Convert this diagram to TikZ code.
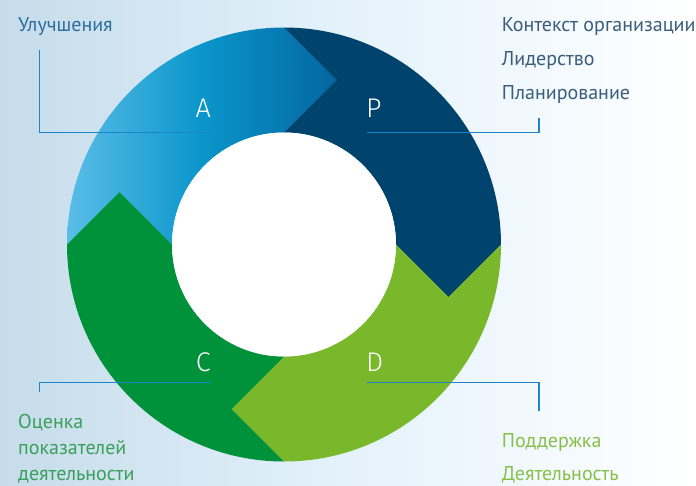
\documentclass[tikz,border=0pt]{standalone}
\usepackage{fontspec}
\setmainfont{PT Sans}
\newfontfamily\letterfont{Fira Sans Light}
\definecolor{bgL}{HTML}{C6DCEA}
\definecolor{bgM}{HTML}{E4F2FB}
\definecolor{aL}{HTML}{5ABDE8}
\definecolor{aM}{HTML}{0A96CB}
\definecolor{aR}{HTML}{0466A0}
\definecolor{pC}{HTML}{00446E}
\definecolor{dC}{HTML}{78B82A}
\definecolor{cC}{HTML}{00923A}
\definecolor{lineC}{HTML}{1C84CA}
\definecolor{tA}{HTML}{2D6E9E}
\definecolor{tP}{HTML}{3A5D7C}
\definecolor{tC}{HTML}{3A9F5C}
\definecolor{tD}{HTML}{88BF4A}
\pgfdeclarehorizontalshading{ashade}{100bp}{color(0bp)=(aL); color(25bp)=(aL); color(50bp)=(aM); color(75bp)=(aR); color(100bp)=(aR)}
\pgfdeclarehorizontalshading{bgshade}{100bp}{color(0bp)=(bgL); color(25bp)=(bgL); color(50bp)=(bgM); color(75bp)=(white); color(100bp)=(white)}
\begin{document}
\begin{tikzpicture}[x=1pt,y=-1pt,
  letter/.style={font=\letterfont\fontsize{27}{27}\selectfont, text=white, inner sep=0pt},
  lbl/.style={font=\fontsize{20}{20}\selectfont, inner sep=0pt, anchor=base west},
  leader/.style={draw=lineC, line width=1.4pt}]
\useasboundingbox (0,0) rectangle (696,485);
\shade[shading=bgshade] (0,0) rectangle (696,485);
% segments
\shade[shading=ashade]
  (67,244.5) arc[start angle=180,end angle=270,radius=217] -- (336.5,80) -- (284,132.5)
  arc[start angle=270,end angle=180,radius=112] -- (119.5,192) -- cycle;
\fill[pC] (284,27.5) arc[start angle=270,end angle=360,radius=217] -- (448.5,297) -- (396,244.5)
  arc[start angle=360,end angle=270,radius=112] -- (336.5,80) -- cycle;
\fill[dC] (501,244.5) arc[start angle=0,end angle=90,radius=217] -- (231.5,409) -- (284,356.5)
  arc[start angle=90,end angle=0,radius=112] -- (448.5,297) -- cycle;
\fill[cC] (284,461.5) arc[start angle=90,end angle=180,radius=217] -- (119.5,192) -- (172,244.5)
  arc[start angle=180,end angle=90,radius=112] -- (231.5,409) -- cycle;
\fill[white] (284,244.5) circle[radius=112];
% letters
\node[letter, anchor=base east] (A) at (211,117) {A};
\node[letter, anchor=base west] (P) at (366,117) {P};
\node[letter, anchor=base east] (C) at (211,371.5) {C};
\node[letter, anchor=base west] (D) at (366,371.5) {D};
% labels
\node[lbl, text=tA] (tUl) at (18,31.7) {Улучшения};
\node[lbl, text=tP] (tP1) at (501.7,31.7) {Контекст организации};
\node[lbl, text=tP] (tP2) at (501.7,65) {Лидерство};
\node[lbl, text=tP] (tP3) at (501.7,99) {Планирование};
\node[lbl, text=tC] (tC1) at (18,428.3) {Оценка};
\node[lbl, text=tC] (tC2) at (18,454.5) {показателей};
\node[lbl, text=tC] (tC3) at (18,480.5) {деятельности};
\node[lbl, text=tD] (tD1) at (501.7,447.3) {Поддержка};
\node[lbl, text=tD] (tD2) at (501.7,480.5) {Деятельность};
% leaders
\coordinate (a1) at (39.5,50);  \coordinate (a2) at (39.5,132.7);  \coordinate (a3) at (210.7,132.7);
\coordinate (p1) at (367,132.7); \coordinate (p2) at (539,132.7);  \coordinate (p3) at (539,118);
\coordinate (c1) at (210.7,382.7); \coordinate (c2) at (39.5,382.7); \coordinate (c3) at (39.5,391.7);
\coordinate (d1) at (367,382.7); \coordinate (d2) at (539,382.7);  \coordinate (d3) at (539,410.7);
\draw[leader] (a3) -- (a2) -- (a1);
\draw[leader] (p1) -- (p2) -- (p3);
\draw[leader] (c1) -- (c2) -- (c3);
\draw[leader] (d1) -- (d2) -- (d3);
\end{tikzpicture}
\end{document}
